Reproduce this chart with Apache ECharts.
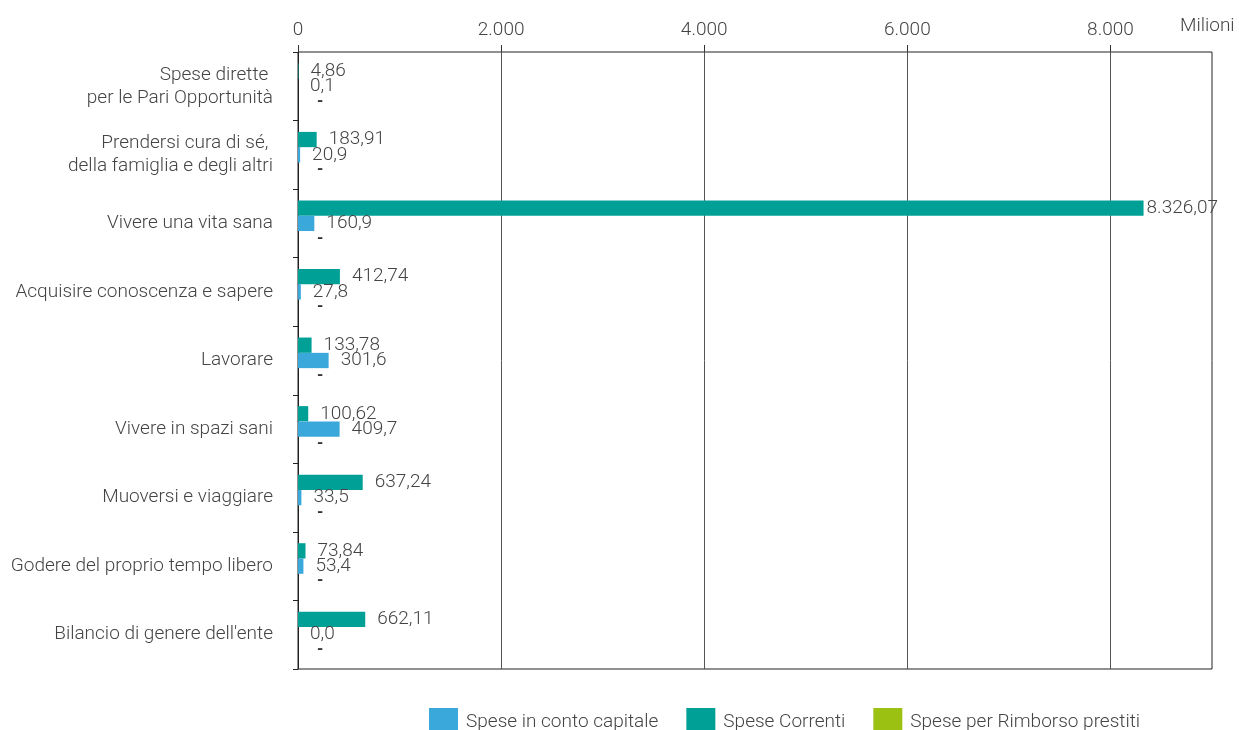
<!DOCTYPE html>
<html lang="it">
<head>
    <meta charset="UTF-8">
    <title>Spese per area</title>
    <script src="https://cdn.jsdelivr.net/npm/echarts@6/dist/echarts.min.js"></script>
    <style>
        body { margin: 0; background: #fff; }
    </style>
</head>
<body>
    <div id="main" style="width: 1239px; height: 730px;"></div>
    <script type="text/javascript">
        // dati (milioni)
        var categorie = [
            'Spese dirette \nper le Pari Opportunità',
            'Prendersi cura di sé, \ndella famiglia e degli altri',
            'Vivere una vita sana',
            'Acquisire conoscenza e sapere',
            'Lavorare',
            'Vivere in spazi sani',
            'Muoversi e viaggiare',
            'Godere del proprio tempo libero',
            "Bilancio di genere dell'ente"
        ];
        var speseCorrenti = [4.86, 183.91, 8326.07, 412.74, 133.78, 100.62, 637.24, 73.84, 662.11];
        var speseCapitale = [0.1, 20.9, 160.9, 27.8, 301.6, 409.7, 33.5, 53.4, 0.0];
        var speseRimborso = [0, 0, 0, 0, 0, 0, 0, 0, 0];
        var tickX = [0, 2000, 4000, 6000, 8000];

        var font = "Roboto, sans-serif";

        // formato italiano: 8.326,07
        function fmt(v, d) {
            var s = v.toFixed(d).split('.');
            var intero = s[0].replace(/\B(?=(\d{3})+(?!\d))/g, '.');
            return d > 0 ? intero + ',' + s[1] : intero;
        }

        var myChart = echarts.init(document.getElementById('main'));
        var option = {
            backgroundColor: '#fff',
            textStyle: { fontFamily: font, fontWeight: 300 },
            grid: {
                left: 298, right: 27, top: 52, bottom: 61,
                outerBoundsMode: 'none', containLabel: false,
                show: true, borderColor: '#222', borderWidth: 1
            },
            legend: {
                data: ['Spese in conto capitale', 'Spese Correnti', 'Spese per Rimborso prestiti'],
                left: 424, top: 703,
                itemWidth: 29, itemHeight: 28, itemGap: 28,
                icon: 'rect',
                textStyle: { fontFamily: font, fontWeight: 300, fontSize: 19, color: '#444', padding: [0, 0, 0, 3] }
            },
            graphic: [{
                type: 'text', left: 1180, top: 17,
                style: { text: 'Milioni', font: '300 19px ' + font, fill: '#444' }
            }],
            xAxis: {
                type: 'value', position: 'top',
                min: 0, max: 9000, interval: 2000,
                axisLine: { show: false },
                axisTick: { show: true, length: 7, customValues: tickX, lineStyle: { color: '#333' } },
                axisLabel: {
                    customValues: tickX, margin: 12,
                    fontFamily: font, fontWeight: 300, fontSize: 19, color: '#444',
                    formatter: function (v) { return fmt(v, 0); }
                },
                splitLine: { show: true, lineStyle: { color: '#555', width: 1 } }
            },
            yAxis: {
                type: 'category', inverse: true, data: categorie,
                axisLine: { lineStyle: { color: '#222' } },
                axisTick: { show: true, length: 5, lineStyle: { color: '#222' } },
                axisLabel: {
                    margin: 25, fontFamily: font, fontWeight: 300, fontSize: 19, color: '#444', lineHeight: 23
                }
            },
            series: [
                {
                    name: 'Spese Correnti', type: 'bar',
                    // l'etichetta della barra lunga resta attaccata alla barra
                    data: speseCorrenti.map(function (v) {
                        return v > 8000 ? { value: v, label: { distance: 3 } } : v;
                    }),
                    barWidth: 15.3, barGap: '0%',
                    itemStyle: { color: '#00A096' },
                    label: {
                        show: true, position: 'right', distance: 12,
                        fontFamily: font, fontWeight: 300, fontSize: 19, color: '#444',
                        formatter: function (p) { return fmt(p.value, 2); }
                    }
                },
                {
                    name: 'Spese in conto capitale', type: 'bar', data: speseCapitale,
                    barWidth: 15.3, barGap: '0%',
                    itemStyle: { color: '#3BA8DC' },
                    label: {
                        show: true, position: 'right', distance: 12,
                        fontFamily: font, fontWeight: 300, fontSize: 19, color: '#444',
                        formatter: function (p) { return fmt(p.value, 1); }
                    }
                },
                {
                    name: 'Spese per Rimborso prestiti', type: 'bar', data: speseRimborso,
                    barWidth: 15.3, barGap: '0%',
                    itemStyle: { color: '#9BC212' },
                    label: {
                        show: true, position: 'right', distance: 19,
                        fontFamily: font, fontSize: 16, color: '#333', fontWeight: 'bold',
                        formatter: function () { return '-'; }
                    }
                }
            ]
        };
        myChart.setOption(option);
    </script>
</body>
</html>
